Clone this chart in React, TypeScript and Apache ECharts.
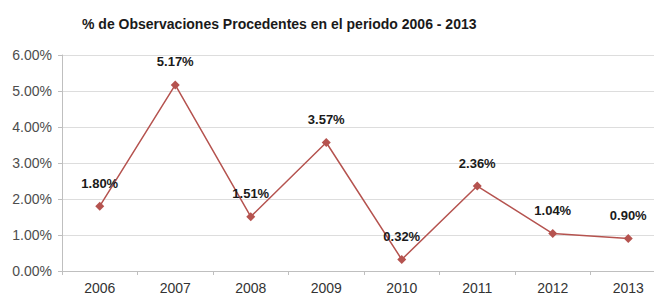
import React, { useEffect, useRef } from "react";
import * as echarts from "echarts";

const years = ["2006", "2007", "2008", "2009", "2010", "2011", "2012", "2013"];
const values = [1.8, 5.17, 1.51, 3.57, 0.32, 2.36, 1.04, 0.9];
const titleText = "% de Observaciones Procedentes en el periodo 2006 - 2013";

export default function App() {
  const ref = useRef<HTMLDivElement>(null);
  useEffect(() => {
    document.body.style.margin = "0";
    const chart = echarts.init(ref.current!, null, { renderer: "svg" });
    const font = "'Liberation Sans', Arial, sans-serif";
    chart.setOption({
      animation: false,
      backgroundColor: "#ffffff",
      title: {
        text: titleText,
        left: 77,
        top: 12,
        textStyle: { fontFamily: font, fontSize: 14, fontWeight: "bold", color: "#1a1a1a" },
      },
      grid: {
        left: 62,
        right: -12,
        top: 55,
        bottom: 22,
        containLabel: false,
        outerBoundsMode: "none",
      },
      xAxis: {
        type: "category",
        data: years,
        boundaryGap: true,
        axisLine: { lineStyle: { color: "#bfbfbf" } },
        axisTick: { show: true, length: 4, lineStyle: { color: "#bfbfbf" } },
        axisLabel: { fontFamily: font, fontSize: 14, color: "#333333", margin: 10 },
      },
      yAxis: {
        type: "value",
        min: 0,
        max: 6,
        interval: 1,
        axisLine: { show: true, lineStyle: { color: "#bfbfbf" } },
        axisTick: { show: true, length: 4, lineStyle: { color: "#bfbfbf" } },
        axisLabel: {
          fontFamily: font,
          fontSize: 14,
          color: "#4d4d4d",
          margin: 10,
          formatter: (v: number) => v.toFixed(2) + "%",
        },
        splitLine: { lineStyle: { color: "#dddddd" } },
      },
      series: [
        {
          type: "line",
          data: values,
          symbol: "diamond",
          symbolSize: 9,
          lineStyle: { color: "#b5534f", width: 1.5 },
          itemStyle: { color: "#b5534f" },
          label: {
            show: true,
            position: "top",
            distance: 12,
            fontFamily: font,
            fontSize: 13,
            fontWeight: "bold",
            color: "#1a1a1a",
            formatter: (p: any) => Number(p.value).toFixed(2) + "%",
          },
        },
      ],
    });
    return () => chart.dispose();
  }, []);
  return (
    <div
      ref={ref}
      style={{ position: "absolute", left: 0, top: 0, width: 654, height: 293 }}
    />
  );
}
